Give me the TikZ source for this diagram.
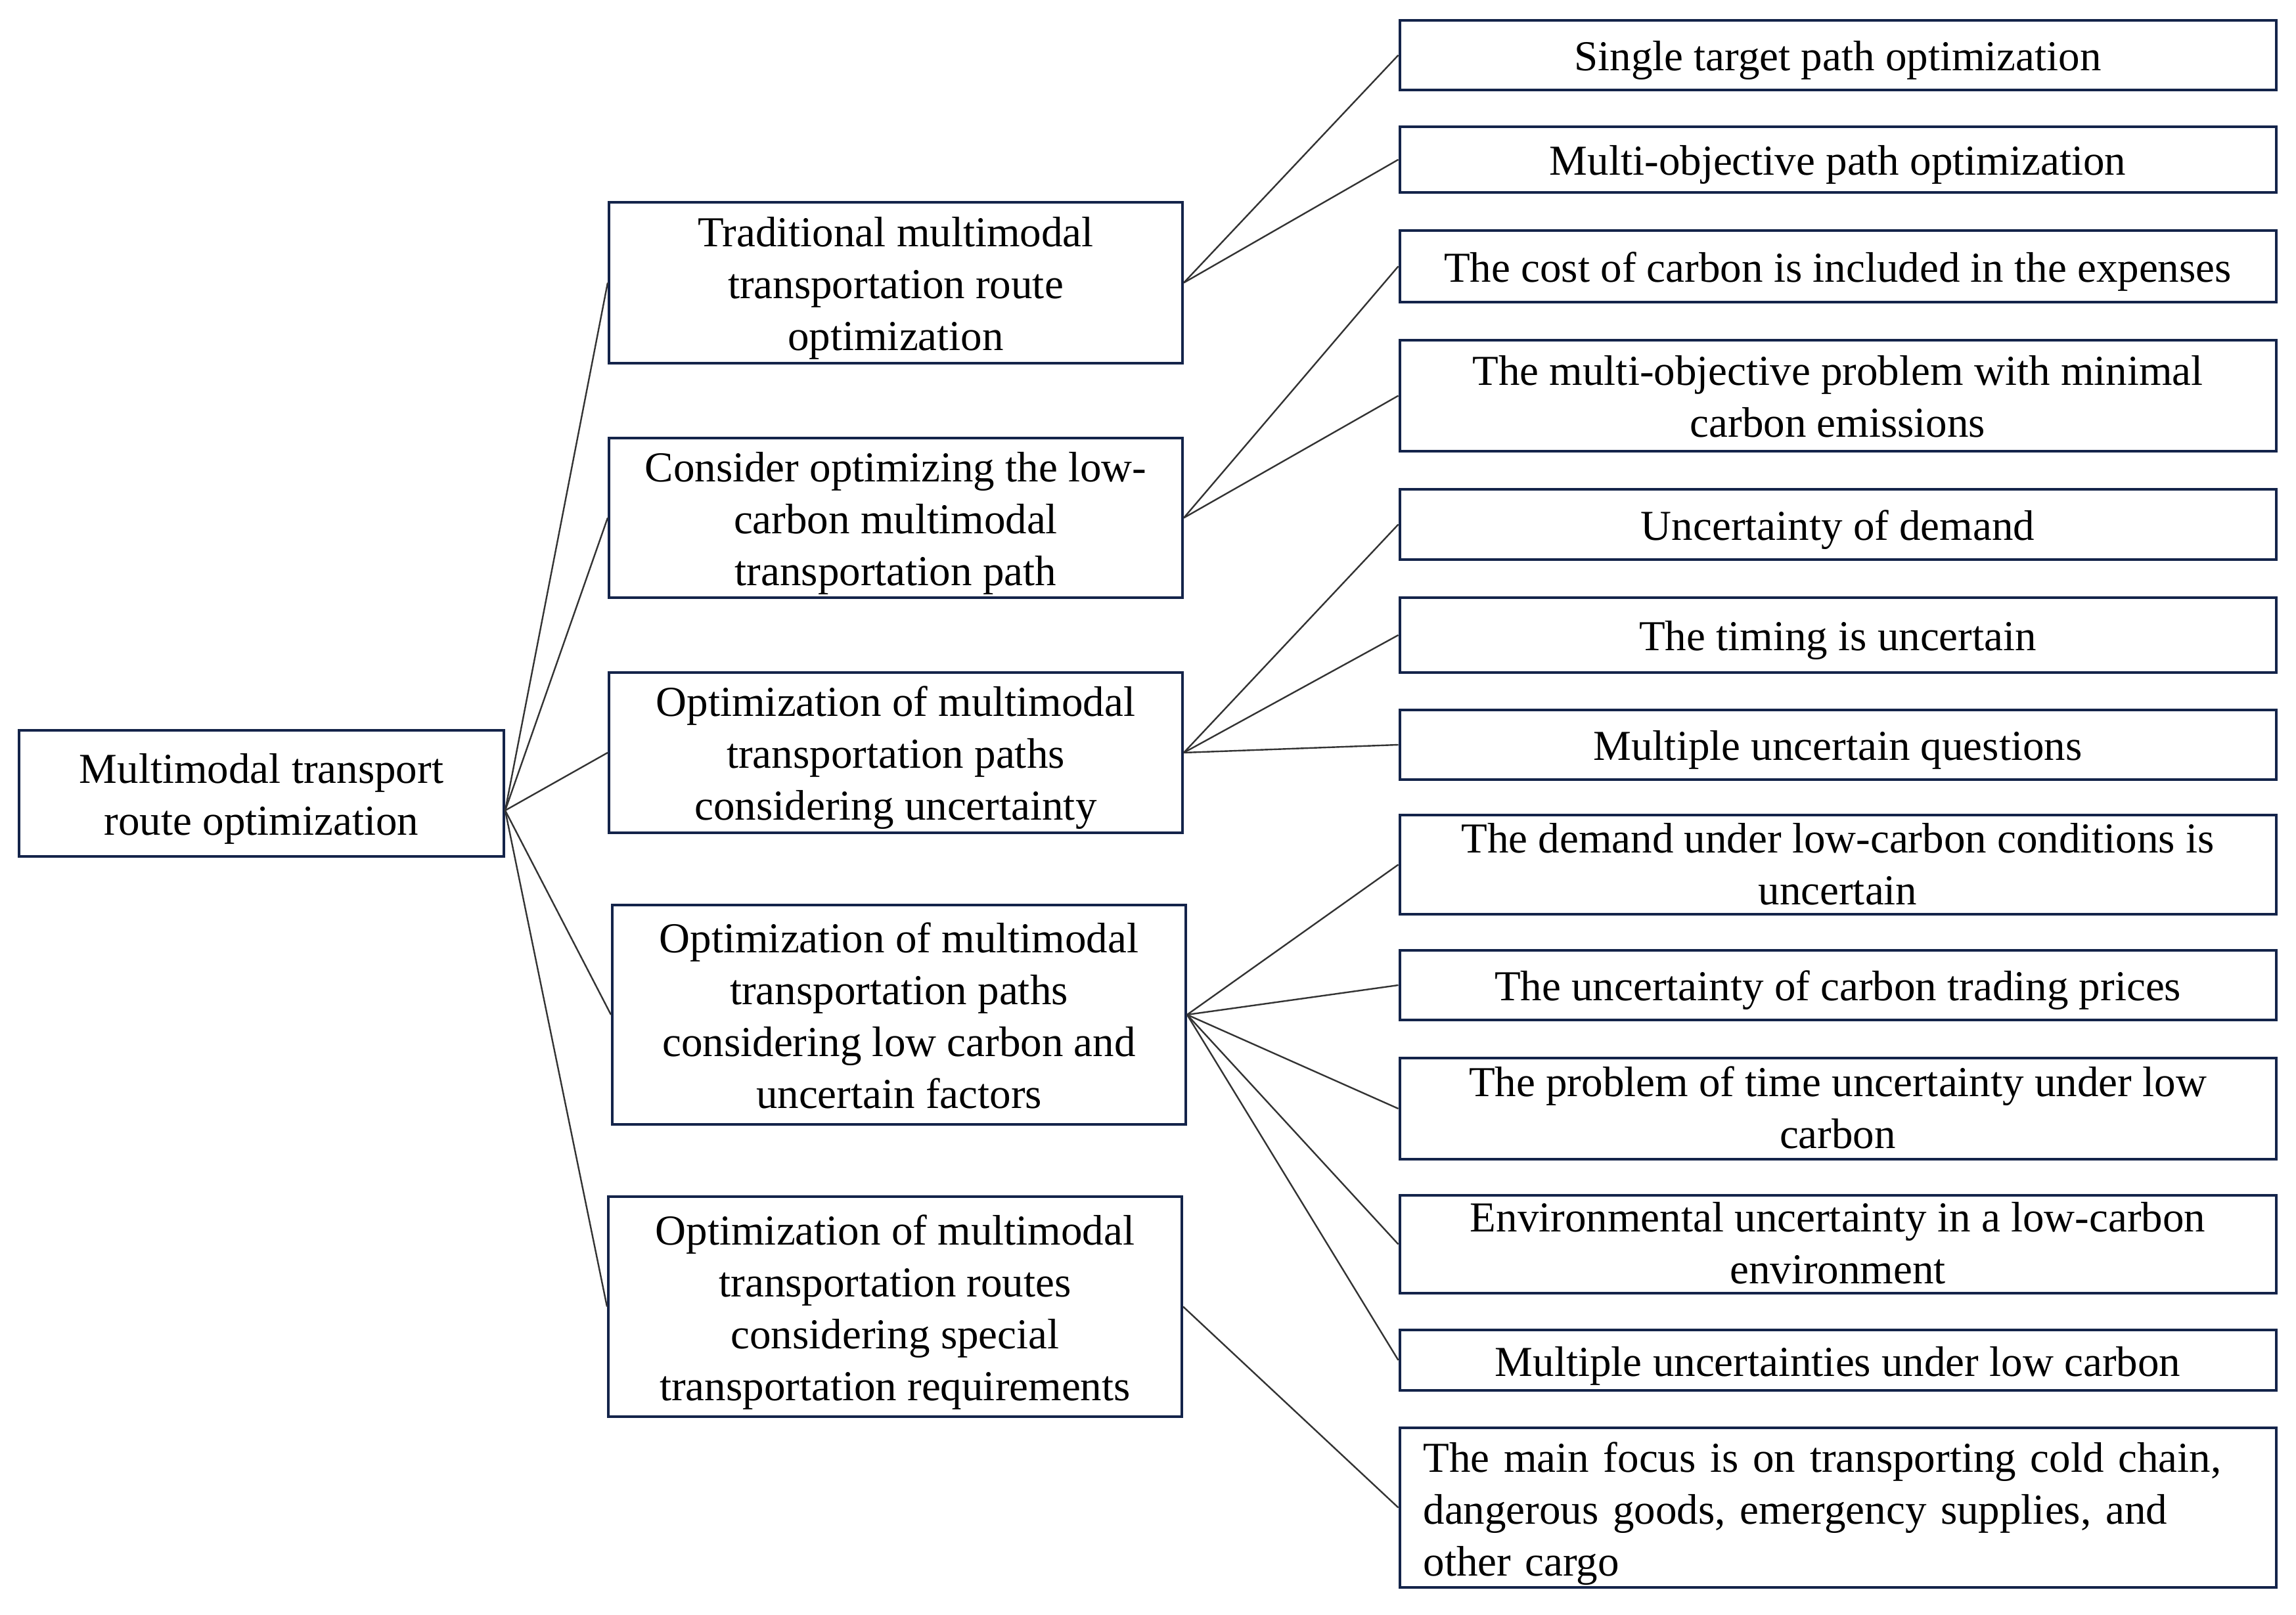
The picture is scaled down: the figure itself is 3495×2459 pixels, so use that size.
\documentclass[tikz,border=0pt]{standalone}
\usepackage{fontspec}
\setmainfont{Liberation Serif}
\definecolor{boxline}{HTML}{14244A}
\definecolor{conn}{HTML}{333333}
\newcommand\topst[1][15.6pt]{\rule{0pt}{#1}}
\begin{document}
\begin{tikzpicture}[x=0.25pt,y=-0.25pt,
  tb/.style 2 args={execute at begin node={\rule{0pt}{#1}},
    execute at end node={\rule[-#2]{0pt}{#2}}},
  box/.style={draw=boxline,line width=1pt,inner sep=0pt,align=center,
    font=\fontsize{16.25}{19.75}\selectfont,tb={15.6pt}{3.6pt}},
  lone/.style={box,minimum width=218.25pt},
  ltwo/.style={box,minimum width=333.5pt},
  link/.style={draw=conn,line width=0.6pt}]
\useasboundingbox (0,0) rectangle (3495,2459);
\node[box,minimum width=184.5pt,minimum height=48pt] (root) at (398,1208) {\topst[15.85pt]Multimodal transport\\route optimization};
\node[lone,minimum height=61.25pt] (a) at (1363.5,430.5) {\topst Traditional multimodal\\transportation route\\optimization};
\node[lone,minimum height=60.75pt] (b) at (1363.5,788.5) {\topst Consider optimizing the low-\\carbon multimodal\\transportation path};
\node[lone,minimum height=61pt] (c) at (1363.5,1146) {\topst Optimization of multimodal\\transportation paths\\considering uncertainty};
\node[lone,minimum height=83.5pt] (d) at (1368.5,1545) {\topst[15.35pt]Optimization of multimodal\\transportation paths\\considering low carbon and\\uncertain factors};
\node[lone,minimum height=83.75pt] (e) at (1362.5,1989.5) {\topst Optimization of multimodal\\transportation routes\\considering special\\transportation requirements};
\node[ltwo,minimum height=26.5pt,tb={13.6pt}{3.6pt}] (a1) at (2797.5,84) {Single target path optimization};
\node[ltwo,minimum height=25pt] (a2) at (2797.5,243) {Multi-objective path optimization};
\node[ltwo,minimum height=27.25pt] (b1) at (2797.5,405.5) {The cost of carbon is included in the expenses};
\node[ltwo,minimum height=42.25pt] (b2) at (2797.5,602.5) {\topst The multi-objective problem with minimal\\carbon emissions};
\node[ltwo,minimum height=26.75pt] (c1) at (2797.5,798.5) {Uncertainty of demand};
\node[ltwo,minimum height=28.5pt] (c2) at (2797.5,967) {The timing is uncertain};
\node[ltwo,minimum height=26.5pt] (c3) at (2797.5,1134) {Multiple uncertain questions};
\node[ltwo,minimum height=36.25pt,tb={0pt}{1pt}] (d1) at (2797.5,1316.5) {\topst[14.5pt]The demand under low-carbon conditions is\\uncertain};
\node[ltwo,minimum height=26.5pt] (d2) at (2797.5,1500) {The uncertainty of carbon trading prices};
\node[ltwo,minimum height=38.5pt,tb={0pt}{1pt}] (d3) at (2797.5,1688) {\topst[14pt]The problem of time uncertainty under low\\carbon};
\node[ltwo,minimum height=36.75pt,tb={0pt}{1.75pt}] (d4) at (2797.5,1894.5) {\topst[13.75pt]Environmental uncertainty in a low-carbon\\environment};
\node[ltwo,minimum height=23pt] (d5) at (2797.5,2071) {Multiple uncertainties under low carbon};
\node[ltwo,minimum height=60.75pt,align=left,text width=315.5pt,inner xsep=9pt] (e1) at (2797.5,2295.5) {\topst[15.85pt]The main focus is on transporting cold chain,\\dangerous goods, emergency supplies, and\\other cargo};
\coordinate (rp) at ([yshift=-6.5pt]root.east);
\foreach \t in {a,b,c,d,e} \draw[link] (rp) -- (\t.west);
\foreach \s/\t in {a/a1,a/a2,b/b1,b/b2,c/c1,c/c2,c/c3,d/d1,d/d2,d/d3,d/d4,d/d5,e/e1}
  \draw[link] (\s.east) -- (\t.west);
\end{tikzpicture}
\end{document}
